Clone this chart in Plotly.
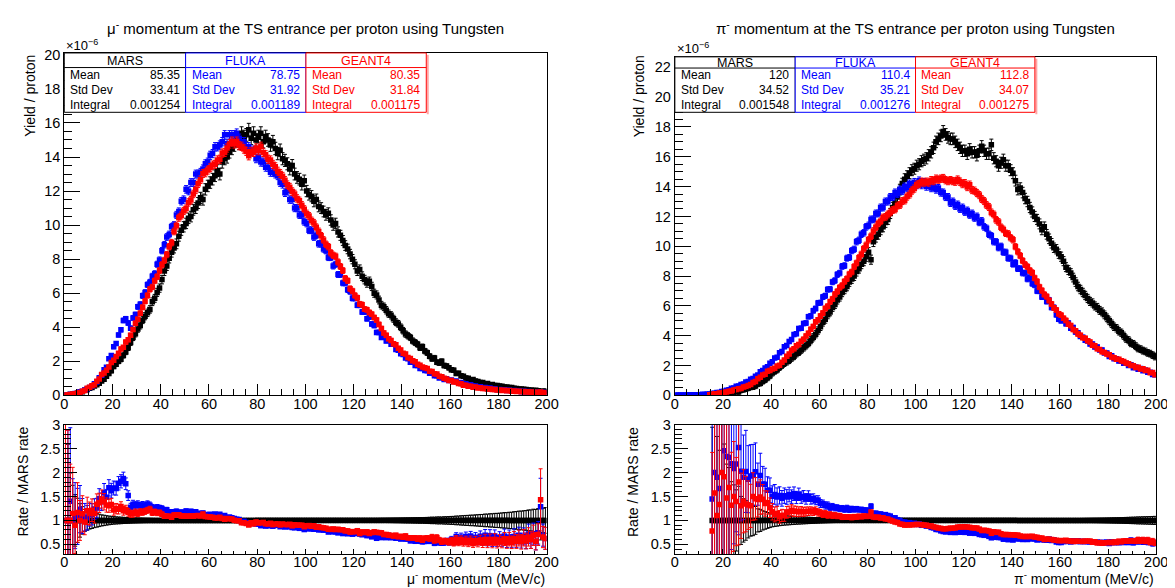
import numpy as np
import plotly.graph_objects as go

W, H = 1175, 588

# ---------------- data (yield per proton, units of 1e-6, 1 MeV/c bins) ----------------
bin_centers = np.arange(200) + 0.5

mu_mars = [
    0.02, 0.03, 0.05, 0.07, 0.10, 0.12, 0.17, 0.22, 0.30, 0.35,
    0.42, 0.47, 0.55, 0.62, 0.71, 0.85, 0.95, 1.12, 1.28, 1.45,
    1.70, 1.83, 2.00, 2.12, 2.35, 2.55, 2.80, 3.10, 3.40, 3.62,
    3.90, 4.10, 4.42, 4.65, 4.85, 5.05, 5.50, 5.70, 6.05, 6.30,
    6.80, 7.30, 7.60, 8.05, 8.40, 8.65, 8.90, 9.35, 9.70, 9.90,
    10.1, 10.4, 10.5, 10.9, 11.0, 11.3, 11.6, 11.5, 12.1, 12.3,
    12.5, 12.7, 12.9, 13.2, 13.0, 13.7, 13.9, 14.0, 14.3, 14.5,
    14.7, 15.0, 14.8, 15.4, 15.2, 15.3, 15.6, 15.1, 15.4, 15.0,
    15.2, 15.4, 14.9, 15.2, 15.0, 14.7, 14.9, 14.5, 14.2, 14.4,
    13.9, 13.8, 13.6, 13.3, 13.5, 13.0, 12.8, 12.7, 12.4, 12.6,
    12.0, 11.8, 11.7, 11.4, 11.5, 11.1, 11.0, 10.8, 10.6, 10.7,
    10.3, 10.0, 10.1, 9.6, 9.4, 9.1, 8.8, 8.6, 8.3, 8.0,
    7.7, 7.3, 7.4, 7.0, 6.8, 6.6, 6.7, 6.4, 6.0, 5.9,
    5.6, 5.3, 5.2, 5.0, 4.8, 4.7, 4.5, 4.3, 4.2, 4.0,
    3.8, 3.6, 3.5, 3.4, 3.2, 3.1, 3.0, 2.8, 2.85, 2.6,
    2.5, 2.3, 2.15, 2.2, 1.95, 1.9, 2.0, 1.75, 1.72, 1.62,
    1.5, 1.48, 1.28, 1.3, 1.15, 1.12, 1.02, 1.0, 0.92, 0.93,
    0.85, 0.82, 0.76, 0.76, 0.68, 0.70, 0.63, 0.64, 0.58, 0.58,
    0.55, 0.53, 0.49, 0.50, 0.46, 0.46, 0.42, 0.41, 0.38, 0.38,
    0.36, 0.35, 0.32, 0.32, 0.29, 0.30, 0.27, 0.14, 0.26, 0.24,
]
mu_fluka = [
    0.02, 0.03, 0.07, 0.07, 0.11, 0.13, 0.21, 0.24, 0.32, 0.37,
    0.47, 0.53, 0.68, 0.78, 1.03, 1.18, 1.50, 1.66, 2.15, 2.35,
    2.85, 3.05, 3.55, 3.85, 4.40, 4.50, 4.25, 3.95, 4.55, 4.75,
    5.20, 5.35, 5.85, 6.05, 6.50, 6.65, 7.00, 7.15, 7.70, 7.95,
    8.50, 8.85, 9.30, 9.45, 9.90, 10.0, 10.6, 10.8, 11.4, 11.5,
    12.1, 12.0, 12.5, 12.5, 13.0, 13.0, 13.1, 13.3, 13.6, 13.7,
    14.1, 14.2, 14.6, 14.6, 14.7, 14.9, 15.3, 14.8, 15.3, 15.3,
    15.3, 15.4, 15.1, 14.9, 14.9, 14.6, 14.6, 14.3, 14.4, 13.9,
    14.0, 13.7, 13.7, 13.4, 13.4, 13.1, 13.1, 13.0, 12.9, 12.5,
    12.4, 11.9, 12.0, 11.5, 11.5, 11.0, 11.0, 10.6, 10.6, 10.2,
    10.1, 9.7, 9.7, 9.3, 9.4, 8.9, 8.9, 8.6, 8.5, 8.1,
    8.1, 7.6, 7.7, 7.1, 7.1, 6.6, 6.6, 6.2, 6.1, 5.7,
    5.7, 5.3, 5.3, 4.9, 4.9, 4.5, 4.6, 4.2, 4.1, 3.7,
    3.7, 3.4, 3.5, 3.2, 3.3, 3.0, 3.0, 2.7, 2.65, 2.45,
    2.4, 2.2, 2.15, 1.95, 1.95, 1.75, 1.76, 1.58, 1.58, 1.46,
    1.45, 1.30, 1.30, 1.15, 1.15, 1.02, 1.06, 0.94, 0.98, 0.88,
    0.90, 0.82, 0.85, 0.74, 0.75, 0.66, 0.68, 0.58, 0.62, 0.53,
    0.55, 0.48, 0.51, 0.44, 0.47, 0.40, 0.43, 0.36, 0.39, 0.33,
    0.35, 0.31, 0.33, 0.28, 0.30, 0.26, 0.28, 0.24, 0.26, 0.22,
    0.24, 0.20, 0.23, 0.19, 0.21, 0.17, 0.20, 0.18, 0.18, 0.15,
]
mu_geant = [
    0.02, 0.03, 0.05, 0.08, 0.09, 0.14, 0.17, 0.25, 0.29, 0.42,
    0.48, 0.57, 0.63, 0.83, 0.97, 1.23, 1.32, 1.48, 1.67, 1.93,
    2.07, 2.28, 2.47, 2.73, 2.82, 3.13, 3.27, 3.53, 3.87, 4.23,
    4.47, 4.83, 5.17, 5.53, 5.87, 6.23, 6.37, 6.73, 6.97, 7.33,
    7.67, 7.93, 8.27, 8.73, 8.97, 9.63, 9.97, 10.43, 10.57, 10.83,
    10.97, 11.33, 11.47, 11.83, 12.07, 12.43, 12.67, 13.03, 13.07, 13.23,
    13.37, 13.53, 13.57, 13.83, 13.87, 14.23, 14.27, 14.53, 14.77, 14.93,
    14.77, 14.93, 14.67, 14.63, 14.47, 14.33, 14.07, 14.33, 14.27, 14.53,
    14.37, 14.63, 14.27, 14.13, 13.87, 13.83, 13.57, 13.43, 13.17, 13.03,
    12.87, 12.63, 12.37, 12.23, 11.97, 11.83, 11.57, 11.43, 11.17, 10.93,
    10.67, 10.53, 10.27, 10.13, 9.87, 9.63, 9.37, 9.13, 8.87, 8.73,
    8.37, 8.23, 8.17, 7.83, 7.57, 7.33, 6.87, 6.73, 6.27, 6.13,
    5.87, 5.73, 5.37, 5.33, 5.07, 5.03, 4.87, 4.77, 4.57, 4.43,
    4.17, 3.93, 3.67, 3.53, 3.33, 3.23, 3.03, 2.97, 2.77, 2.67,
    2.47, 2.43, 2.23, 2.17, 2.03, 1.97, 1.83, 1.77, 1.67, 1.63,
    1.58, 1.42, 1.40, 1.27, 1.25, 1.12, 1.10, 1.00, 0.97, 0.88,
    0.87, 0.78, 0.78, 0.70, 0.69, 0.60, 0.60, 0.53, 0.54, 0.48,
    0.49, 0.44, 0.45, 0.40, 0.41, 0.37, 0.38, 0.34, 0.35, 0.31,
    0.32, 0.29, 0.30, 0.27, 0.28, 0.25, 0.26, 0.23, 0.24, 0.21,
    0.23, 0.20, 0.21, 0.19, 0.20, 0.17, 0.19, 0.20, 0.17, 0.15,
]

pi_mars = [None] * 15 + [
    0.09, 0.07, 0.10, 0.12, 0.08,
    0.11, 0.15, 0.16, 0.22, 0.24, 0.28, 0.25, 0.36, 0.40, 0.44,
    0.50, 0.56, 0.58, 0.64, 0.78, 0.82, 0.95, 1.05, 1.18, 1.32,
    1.50, 1.62, 1.72, 1.88, 2.02, 2.15, 2.25, 2.35, 2.50, 2.62,
    2.80, 2.90, 3.05, 3.20, 3.35, 3.50, 3.70, 3.90, 4.10, 4.35,
    4.60, 4.90, 5.10, 5.40, 5.60, 5.90, 6.10, 6.40, 6.60, 6.90,
    7.10, 7.30, 7.60, 7.80, 8.00, 8.30, 8.50, 8.80, 9.00, 9.30,
    9.60, 9.10, 10.3, 10.6, 10.8, 11.1, 11.3, 11.6, 11.8, 12.2,
    12.6, 12.9, 13.3, 13.8, 14.2, 14.5, 14.7, 14.9, 15.1, 15.2,
    15.4, 15.5, 15.7, 15.8, 15.9, 16.1, 16.3, 16.6, 17.0, 17.2,
    17.4, 17.7, 17.5, 17.3, 17.2, 17.2, 17.0, 16.8, 16.6, 16.4,
    16.4, 16.2, 16.5, 16.3, 16.3, 16.1, 16.4, 16.7, 16.4, 16.2,
    16.2, 16.8, 15.9, 15.7, 15.4, 15.6, 15.8, 15.4, 15.4, 15.1,
    14.9, 14.4, 13.8, 13.9, 13.6, 13.2, 13.0, 12.6, 12.3, 12.0,
    11.8, 11.5, 11.1, 11.3, 10.8, 10.5, 10.2, 9.9, 9.8, 9.5,
    9.3, 9.0, 8.6, 8.4, 8.2, 7.9, 7.6, 7.3, 7.1, 6.9,
    6.7, 6.5, 6.3, 6.2, 6.0, 5.9, 5.7, 5.6, 5.4, 5.2,
    5.0, 4.8, 4.6, 4.5, 4.3, 4.2, 4.0, 3.8, 3.7, 3.5,
    3.45, 3.3, 3.15, 3.1, 3.0, 2.95, 2.85, 2.8, 2.7, 2.6,
]
pi_fluka = [
    0.02, 0.02, 0.03, 0.02, 0.03, 0.04, 0.03, 0.05, 0.04, 0.05,
    0.05, 0.07, 0.06, 0.09, 0.10, 0.13, 0.14, 0.19, 0.20, 0.26,
    0.27, 0.35, 0.37, 0.48, 0.50, 0.61, 0.63, 0.73, 0.76, 0.89,
    0.93, 1.08, 1.13, 1.29, 1.37, 1.59, 1.67, 1.84, 1.92, 2.15,
    2.26, 2.50, 2.56, 2.86, 2.95, 3.26, 3.35, 3.62, 3.74, 4.08,
    4.14, 4.48, 4.50, 4.82, 4.85, 5.28, 5.33, 5.68, 5.82, 6.20,
    6.22, 6.60, 6.68, 7.10, 7.12, 7.60, 7.70, 8.10, 8.20, 8.65,
    8.70, 9.20, 9.25, 9.70, 9.80, 10.3, 10.4, 10.8, 10.9, 11.3,
    11.4, 11.8, 11.8, 12.2, 12.2, 12.6, 12.6, 13.0, 13.0, 13.3,
    13.3, 13.6, 13.5, 13.8, 13.7, 14.0, 13.9, 14.2, 14.1, 14.3,
    14.1, 14.4, 14.1, 14.3, 14.0, 14.2, 13.9, 14.0, 13.8, 13.9,
    13.6, 13.6, 13.3, 13.3, 12.9, 13.0, 12.7, 12.8, 12.5, 12.6,
    12.3, 12.4, 12.1, 12.2, 11.9, 12.0, 11.6, 11.7, 11.3, 11.2,
    10.8, 10.7, 10.3, 10.3, 9.9, 10.0, 9.6, 9.6, 9.2, 9.2,
    8.8, 8.9, 8.5, 8.5, 8.2, 8.2, 7.8, 7.9, 7.5, 7.4,
    7.0, 7.0, 6.6, 6.7, 6.3, 6.4, 5.9, 5.9, 5.4, 5.1,
    5.0, 5.05, 4.8, 4.85, 4.5, 4.55, 4.25, 4.2, 3.95, 3.9,
    3.7, 3.65, 3.45, 3.45, 3.25, 3.25, 3.05, 3.05, 2.85, 2.85,
    2.6, 2.65, 2.45, 2.45, 2.3, 2.3, 2.15, 2.15, 2.0, 2.05,
    1.85, 1.9, 1.75, 1.8, 1.65, 1.7, 1.55, 1.55, 1.4, 1.38,
]
pi_geant = [None] * 14 + [
    0.05, 0.07, 0.11, 0.11, 0.16, 0.16,
    0.21, 0.22, 0.27, 0.29, 0.36, 0.39, 0.45, 0.47, 0.56, 0.59,
    0.66, 0.73, 0.87, 0.93, 1.12, 1.22, 1.37, 1.42, 1.62, 1.67,
    1.77, 1.82, 1.97, 2.02, 2.23, 2.37, 2.63, 2.77, 3.03, 3.12,
    3.33, 3.42, 3.63, 3.77, 3.98, 4.17, 4.43, 4.62, 4.93, 5.07,
    5.33, 5.52, 5.83, 5.97, 6.28, 6.47, 6.78, 6.97, 7.23, 7.37,
    7.63, 7.82, 8.13, 8.27, 8.63, 8.87, 9.23, 9.47, 9.83, 10.07,
    10.43, 10.67, 11.03, 11.27, 11.53, 11.67, 11.93, 11.97, 12.13, 12.27,
    12.43, 12.47, 12.73, 12.77, 13.03, 13.07, 13.33, 13.47, 13.73, 13.87,
    14.13, 14.17, 14.33, 14.27, 14.33, 14.27, 14.43, 14.37, 14.53, 14.47,
    14.53, 14.57, 14.43, 14.37, 14.43, 14.37, 14.33, 14.47, 14.33, 14.17,
    14.23, 13.97, 14.13, 13.77, 13.73, 13.57, 13.43, 13.17, 13.03, 12.77,
    12.63, 12.27, 12.13, 11.77, 11.63, 11.27, 11.13, 10.87, 10.83, 10.57,
    10.43, 9.97, 9.63, 9.37, 9.03, 8.77, 8.63, 8.37, 8.23, 7.87,
    7.63, 7.27, 7.03, 6.77, 6.63, 6.37, 6.13, 5.87, 5.73, 5.47,
    5.38, 5.17, 5.03, 4.77, 4.68, 4.42, 4.33, 4.12, 4.03, 3.87,
    3.83, 3.67, 3.58, 3.37, 3.33, 3.12, 3.08, 2.92, 2.88, 2.77,
    2.73, 2.57, 2.53, 2.42, 2.43, 2.32, 2.28, 2.17, 2.13, 2.02,
    1.98, 1.87, 1.88, 1.77, 1.78, 1.67, 1.68, 1.52, 1.53, 1.38,
]

generators = ["MARS", "FLUKA", "GEANT4"]
mu_mean = ["85.35", "78.75", "80.35"]
mu_std = ["33.41", "31.92", "31.84"]
mu_integral = ["0.001254", "0.001189", "0.001175"]
pi_mean = ["120", "110.4", "112.8"]
pi_std = ["34.52", "35.21", "34.07"]
pi_integral = ["0.001548", "0.001276", "0.001275"]

# ---------------- styling ----------------
COLORS = ["#000000", "#0000ff", "#ff0000"]
FONT = "Liberation Sans, Arial, Helvetica, sans-serif"


def fx(px):
    return px / W


def fy(py):
    return 1 - py / H


def arr(v):
    return np.array([np.nan if a is None else a for a in v], dtype=float)


def stat_err(y, w, c):
    return np.sqrt(w * np.nan_to_num(y) + c) * np.where(np.isnan(y), np.nan, 1.0)


fig = go.Figure()

panels = [
    dict(series=[mu_mars, mu_fluka, mu_geant], ax=("x", "y"), rax=("x2", "y2"),
         w=[0.009, 0.004, 0.004], c=[0.002, 0.0008, 0.0008]),
    dict(series=[pi_mars, pi_fluka, pi_geant], ax=("x3", "y3"), rax=("x4", "y4"),
         w=[0.007, 0.004, 0.004], c=[0.03, 0.003, 0.003]),
]

for p in panels:
    ys = [arr(s) for s in p["series"]]
    es = [stat_err(y, w, c) for y, w, c in zip(ys, p["w"], p["c"])]
    for y, e, col in zip(ys, es, COLORS):
        fig.add_trace(go.Scatter(
            x=bin_centers, y=y, mode="markers", xaxis=p["ax"][0], yaxis=p["ax"][1],
            marker=dict(symbol="square", size=5.5, color=col, line=dict(width=0)),
            error_y=dict(type="data", array=e, color=col, thickness=1, width=2),
            showlegend=False, hoverinfo="skip"))
    m, em = ys[0], es[0]
    rel_m = em / m
    for i, (y, e, col) in enumerate(zip(ys, es, COLORS)):
        if i == 0:
            r = np.where(np.isnan(m), np.nan, 1.0)
            re = rel_m
        else:
            with np.errstate(divide="ignore", invalid="ignore"):
                r = y / m
                re = r * np.sqrt((e / y) ** 2 + rel_m ** 2)
        fig.add_trace(go.Scatter(
            x=bin_centers, y=r, mode="markers", xaxis=p["rax"][0], yaxis=p["rax"][1],
            marker=dict(symbol="square", size=5.5, color=col, line=dict(width=0)),
            error_y=dict(type="data", array=re, color=col, thickness=1, width=2),
            showlegend=False, hoverinfo="skip"))

axis_common = dict(showline=True, linecolor="black", linewidth=1, mirror=True,
                   showgrid=False, zeroline=False, ticks="inside", tickcolor="black",
                   tickfont=dict(family=FONT, size=14.5, color="black"))

LEFT = (53, 542)
RIGHT = (672, 1160)
MAIN_BOTTOM = 390
RATIO = (420, 553)


def xax(xpx, anchor, major_len, minor_len):
    d = dict(axis_common)
    d.update(domain=[fx(xpx[0]), fx(xpx[1])], range=[0, 200], anchor=anchor,
             tick0=0, dtick=20, ticklen=major_len, ticklabelstandoff=-5,
             minor=dict(dtick=5, ticklen=minor_len, ticks="inside", tickcolor="black"))
    return d


def yax(ytop, ybot, rng, dtick, mdtick, anchor, major_len, minor_len):
    d = dict(axis_common)
    d.update(domain=[fy(ybot), fy(ytop)], range=rng, anchor=anchor, tick0=0,
             dtick=dtick, ticklen=major_len,
             minor=dict(dtick=mdtick, ticklen=minor_len, ticks="inside", tickcolor="black"))
    return d


fig.update_layout(
    width=W, height=H, margin=dict(l=0, r=0, t=0, b=0),
    paper_bgcolor="white", plot_bgcolor="white", showlegend=False,
    font=dict(family=FONT, color="black"),
    xaxis=xax(LEFT, "y", 11, 6),
    yaxis=yax(38, MAIN_BOTTOM, [0, 20.11], 2, 0.5, "x", 16, 8),
    xaxis2=xax(LEFT, "y2", 5, 3),
    yaxis2=yax(RATIO[0], RATIO[1], [0.3, 3], 0.5, 0.1, "x2", 13, 7),
    xaxis3=xax(RIGHT, "y3", 11, 6),
    yaxis3=yax(42, MAIN_BOTTOM, [0, 22.7], 2, 0.5, "x3", 16, 8),
    xaxis4=xax(RIGHT, "y4", 5, 3),
    yaxis4=yax(RATIO[0], RATIO[1], [0.3, 3], 0.5, 0.1, "x4", 13, 7),
)

shapes = []
annotations = []


def text(x, y, s, size, color="black", xanchor="center", yanchor="middle", angle=0):
    annotations.append(dict(x=fx(x), y=fy(y), xref="paper", yref="paper", text=s,
                            showarrow=False, xanchor=xanchor, yanchor=yanchor,
                            textangle=angle,
                            font=dict(family=FONT, size=size, color=color)))


def stat_boxes(edges, top, header_line, bottom, means, stds, integrals):
    for i in range(3):
        x0, x1 = edges[i], edges[i + 1]
        col = COLORS[i]
        if i == 2:
            shapes.append(dict(type="line", xref="paper", yref="paper",
                               x0=fx(x1 + 1.5), x1=fx(x1 + 1.5), y0=fy(top + 2), y1=fy(bottom + 2),
                               line=dict(color="rgba(255,0,0,0.35)", width=2)))
        shapes.append(dict(type="rect", xref="paper", yref="paper",
                           x0=fx(x0), x1=fx(x1), y0=fy(bottom), y1=fy(top),
                           line=dict(color=col, width=1), fillcolor="white"))
        shapes.append(dict(type="line", xref="paper", yref="paper",
                           x0=fx(x0), x1=fx(x1), y0=fy(header_line), y1=fy(header_line),
                           line=dict(color=col, width=1)))
        text((x0 + x1) / 2, (top + header_line) / 2 + 0.5, generators[i], 12.5, col)
        for lab, val, yy in (("Mean", means[i], 61), ("Std Dev", stds[i], 76.5),
                             ("Integral", integrals[i], 91)):
            text(x0 + 4, yy, lab, 12, col, xanchor="left")
            text(x1 - 4, yy, val, 12, col, xanchor="right")


stat_boxes([53, 176, 298, 420], 38, 53, 99, mu_mean, mu_std, mu_integral)
stat_boxes([672, 794, 916, 1037], 42, 53.5, 99, pi_mean, pi_std, pi_integral)

# titles
text(297.5, 12, "μ<sup>-</sup> momentum at the TS entrance per proton using Tungsten", 15)
text(916, 12, "π<sup>-</sup> momentum at the TS entrance per proton using Tungsten", 15)

# exponent labels
text(53, 30, "×10<sup>−6</sup>", 13, xanchor="left")
text(672, 33, "×10<sup>−6</sup>", 13, xanchor="left")

# axis titles
text(18, 38, "Yield / proton", 14, yanchor="top", angle=-90)
text(636, 38, "Yield / proton", 14, yanchor="top", angle=-90)
text(11, RATIO[0], "Rate / MARS rate", 14, yanchor="top", angle=-90)
text(629, RATIO[0], "Rate / MARS rate", 14, yanchor="top", angle=-90)
text(LEFT[1], 578, "μ<sup>-</sup> momentum (MeV/c)", 14, xanchor="right")
text(RIGHT[1], 578, "π<sup>-</sup> momentum (MeV/c)", 14, xanchor="right")

fig.update_layout(shapes=shapes, annotations=annotations)

fig.write_html("out.html")
